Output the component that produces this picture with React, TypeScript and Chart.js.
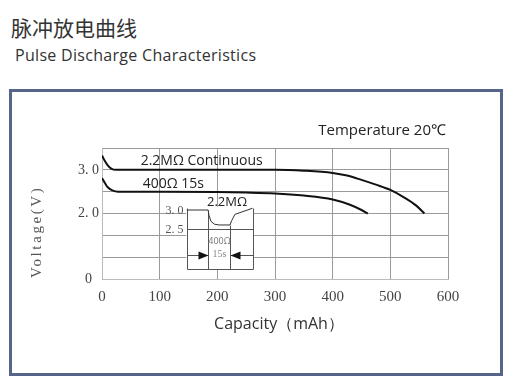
import React, { useEffect, useRef } from "react";
import { Chart, registerables } from "chart.js";

Chart.register(...registerables);

// ---- data ----
const capacityContinuous = [0, 5, 10, 16, 24, 100, 200, 300, 350, 400, 425, 450, 475, 500, 525, 545, 559];
const voltageContinuous = [3.33, 3.2, 3.1, 3.03, 3.0, 3.0, 3.0, 3.0, 2.98, 2.93, 2.87, 2.77, 2.66, 2.54, 2.36, 2.18, 2.0];

const capacityPulse = [0, 5, 10, 18, 28, 100, 200, 250, 300, 350, 400, 430, 450, 461];
const voltagePulse = [2.81, 2.7, 2.6, 2.53, 2.5, 2.5, 2.49, 2.48, 2.46, 2.41, 2.32, 2.2, 2.08, 2.0];

const seriesLabels = ["2.2MΩ Continuous", "400Ω 15s"];
const seriesLabelPos = [
  [67, 3.21],
  [70.6, 2.676],
];

const yTickValues = [0.5, 2, 3];
const yTickLabels = ["0", "2. 0", "3. 0"];
const xAxisTitle = "Capacity（mAh）";
const yAxisTitle = "Voltage(V)";
const noteText = "Temperature 20℃";

// inset (pulse waveform sketch), in chart data units
const insetCols = [147, 184, 222, 261];
const insetTop = 2.13;
const insetHigh = 2.08;
const insetMid = 1.645;
const insetArrow = 1.05;
const insetBottom = 0.73;
const insetWaveX = [147, 184, 185.5, 189, 195, 203, 222, 225, 230.5, 261];
const insetWaveV = [2.08, 2.08, 1.96, 1.82, 1.755, 1.737, 1.737, 1.84, 1.98, 2.12];
const insetTickLabels = ["3. 0", "2. 5"];
const insetTitle = "2.2MΩ";
const insetPulseLabels = ["400Ω", "15s"];

const makePoints = (xs: number[], ys: number[]) => xs.map((x, i) => ({ x, y: ys[i] }));

const annotationPlugin = {
  id: "annotations",
  beforeDatasetsDraw(chart: any) {
    const { ctx, scales } = chart;
    const x = scales.x, y = scales.y;
    const l = x.getPixelForValue(insetCols[0]);
    const r = x.getPixelForValue(insetCols[3]);
    const t = y.getPixelForValue(insetTop);
    const b = y.getPixelForValue(insetBottom);
    ctx.save();
    ctx.fillStyle = "#ffffff";
    ctx.fillRect(l - 0.5, t - 1, r - l + 1, b - t + 2);
    ctx.restore();
  },
  afterDatasetsDraw(chart: any) {
    const { ctx, scales, chartArea } = chart;
    const X = (v: number) => Math.round(scales.x.getPixelForValue(v)) + 0.5;
    const Y = (v: number) => Math.round(scales.y.getPixelForValue(v)) + 0.5;
    ctx.save();

    // inset frame
    ctx.strokeStyle = "#555";
    ctx.lineWidth = 1;
    const c = insetCols.map(X);
    const line = (x1: number, y1: number, x2: number, y2: number) => {
      ctx.beginPath();
      ctx.moveTo(x1, y1);
      ctx.lineTo(x2, y2);
      ctx.stroke();
    };
    line(c[0], Y(insetTop), c[0], Y(insetBottom));
    line(c[1], Y(insetHigh), c[1], Y(insetBottom));
    line(c[2], Y(insetWaveV[6]), c[2], Y(insetBottom));
    line(c[3], Y(insetTop), c[3], Y(insetBottom));
    line(c[0], Y(insetMid), c[3], Y(insetMid));
    line(c[0], Y(insetBottom), c[3], Y(insetBottom));
    line(c[0], Y(insetArrow), c[1], Y(insetArrow));
    line(c[2], Y(insetArrow), c[3], Y(insetArrow));

    // waveform
    ctx.strokeStyle = "#333";
    ctx.beginPath();
    insetWaveX.forEach((xv, i) => {
      const px = scales.x.getPixelForValue(xv);
      const py = scales.y.getPixelForValue(insetWaveV[i]);
      if (i === 0) ctx.moveTo(px, py);
      else ctx.lineTo(px, py);
    });
    ctx.stroke();

    // arrowheads
    ctx.fillStyle = "#111";
    const ay = Y(insetArrow);
    ctx.beginPath();
    ctx.moveTo(c[1], ay);
    ctx.lineTo(c[1] - 10, ay - 4);
    ctx.lineTo(c[1] - 10, ay + 4);
    ctx.closePath();
    ctx.fill();
    ctx.beginPath();
    ctx.moveTo(c[2], ay);
    ctx.lineTo(c[2] + 10, ay - 4);
    ctx.lineTo(c[2] + 10, ay + 4);
    ctx.closePath();
    ctx.fill();

    // inset texts
    ctx.textBaseline = "middle";
    ctx.fillStyle = "#555";
    ctx.font = "12px 'Liberation Serif'";
    ctx.textAlign = "right";
    ctx.fillText(insetTickLabels[0], c[0] - 4, Y(insetHigh));
    ctx.fillText(insetTickLabels[1], c[0] - 4, Y(insetMid));
    ctx.fillStyle = "#222";
    ctx.font = "13px 'Open Sans'";
    ctx.textAlign = "left";
    ctx.fillText(insetTitle, scales.x.getPixelForValue(182), scales.y.getPixelForValue(2.25));
    ctx.textAlign = "center";
    const mid = (c[1] + c[2]) / 2;
    ctx.fillStyle = "#777";
    ctx.font = "9px 'Open Sans'";
    ctx.fillText(insetPulseLabels[0], mid, scales.y.getPixelForValue(1.354));
    ctx.fillStyle = "#888";
    ctx.font = "10px 'Liberation Serif'";
    ctx.fillText(insetPulseLabels[1], mid, scales.y.getPixelForValue(1.066));

    // series labels
    ctx.fillStyle = "#222";
    ctx.font = "14px 'Open Sans'";
    ctx.textAlign = "left";
    seriesLabels.forEach((s, i) => {
      ctx.fillText(
        s,
        scales.x.getPixelForValue(seriesLabelPos[i][0]),
        scales.y.getPixelForValue(seriesLabelPos[i][1])
      );
    });

    // temperature note
    ctx.font = "15px 'Open Sans'";
    ctx.textAlign = "right";
    ctx.fillText(noteText, chartArea.right - 2, chartArea.top - 17);

    // axis titles
    ctx.fillStyle = "#333";
    ctx.font = "16px 'Open Sans'";
    ctx.textAlign = "center";
    ctx.fillText(xAxisTitle, (chartArea.left + chartArea.right) / 2 + 4, chartArea.bottom + 45);

    ctx.save();
    ctx.translate(37, chartArea.bottom - 1);
    ctx.rotate(-Math.PI / 2);
    ctx.fillStyle = "#555";
    ctx.font = "15px 'Liberation Serif'";
    (ctx as any).letterSpacing = "2.6px";
    ctx.textAlign = "left";
    ctx.fillText(yAxisTitle, 0, 0);
    ctx.restore();

    ctx.restore();
  },
};

export default function App() {
  const canvasRef = useRef<HTMLCanvasElement | null>(null);

  useEffect(() => {
    if (!canvasRef.current) return;
    const chart = new Chart(canvasRef.current, {
      type: "line",
      data: {
        datasets: [
          {
            label: seriesLabels[0],
            data: makePoints(capacityContinuous, voltageContinuous),
            borderColor: "#111",
            borderWidth: 2,
            pointRadius: 0,
            cubicInterpolationMode: "monotone",
            fill: false,
          },
          {
            label: seriesLabels[1],
            data: makePoints(capacityPulse, voltagePulse),
            borderColor: "#111",
            borderWidth: 2,
            pointRadius: 0,
            cubicInterpolationMode: "monotone",
            fill: false,
          },
        ],
      },
      options: {
        animation: false,
        responsive: false,
        devicePixelRatio: 1,
        layout: { padding: { left: 0, top: 148, right: 77, bottom: 50 } },
        plugins: { legend: { display: false }, tooltip: { enabled: false } },
        scales: {
          x: {
            type: "linear",
            min: 0,
            max: 600,
            afterFit: (s: any) => {
              s.height = 55;
            },
            ticks: {
              stepSize: 100,
              padding: 9,
              color: "#444",
              font: { family: "'Liberation Serif'", size: 15 },
            },
            grid: { color: "#9a9a9a", lineWidth: 1, drawTicks: false },
            border: { color: "#bbb", width: 1 },
            title: { display: false, text: xAxisTitle },
          },
          y: {
            type: "linear",
            min: 0.5,
            max: 3.5,
            afterFit: (s: any) => {
              s.width = 102;
            },
            afterBuildTicks: (s: any) => {
              s.ticks = [0.5, 1, 1.5, 2, 2.5, 3, 3.5].map((v) => ({ value: v }));
            },
            ticks: {
              stepSize: 0.5,
              padding: 3,
              crossAlign: "center",
              color: "#444",
              font: { family: "'Liberation Serif'", size: 14 },
              callback: (v: any) => {
                const i = yTickValues.indexOf(Number(v));
                return i >= 0 ? yTickLabels[i] : "";
              },
            },
            grid: { color: "#9a9a9a", lineWidth: 1, drawTicks: false },
            border: { color: "#bbb", width: 1 },
            title: { display: false, text: yAxisTitle },
          },
        },
      },
      plugins: [annotationPlugin],
    } as any);
    return () => chart.destroy();
  }, []);

  return (
    <div
      style={{
        position: "absolute",
        left: 0,
        top: 0,
        width: 525,
        height: 384,
        background: "#fff",
        overflow: "hidden",
      }}
    >
      <div
        style={{
          position: "absolute",
          left: 11,
          top: 14,
          fontFamily: "'Noto Sans CJK SC', sans-serif",
          fontSize: 21,
          lineHeight: "26px",
          color: "#333",
          whiteSpace: "nowrap",
        }}
      >
        脉冲放电曲线
      </div>
      <div
        style={{
          position: "absolute",
          left: 15,
          top: 44,
          fontFamily: "'Open Sans', sans-serif",
          fontSize: 16,
          letterSpacing: "0.3px",
          lineHeight: "22px",
          color: "#333",
          whiteSpace: "nowrap",
        }}
      >
        Pulse Discharge Characteristics
      </div>
      <div
        style={{
          position: "absolute",
          left: 9,
          top: 89,
          width: 494,
          height: 287,
          boxSizing: "border-box",
          border: "3px solid #56648a",
        }}
      />
      <canvas
        ref={canvasRef}
        width={525}
        height={384}
        style={{ position: "absolute", left: 0, top: 0, width: 525, height: 384 }}
      />
    </div>
  );
}
